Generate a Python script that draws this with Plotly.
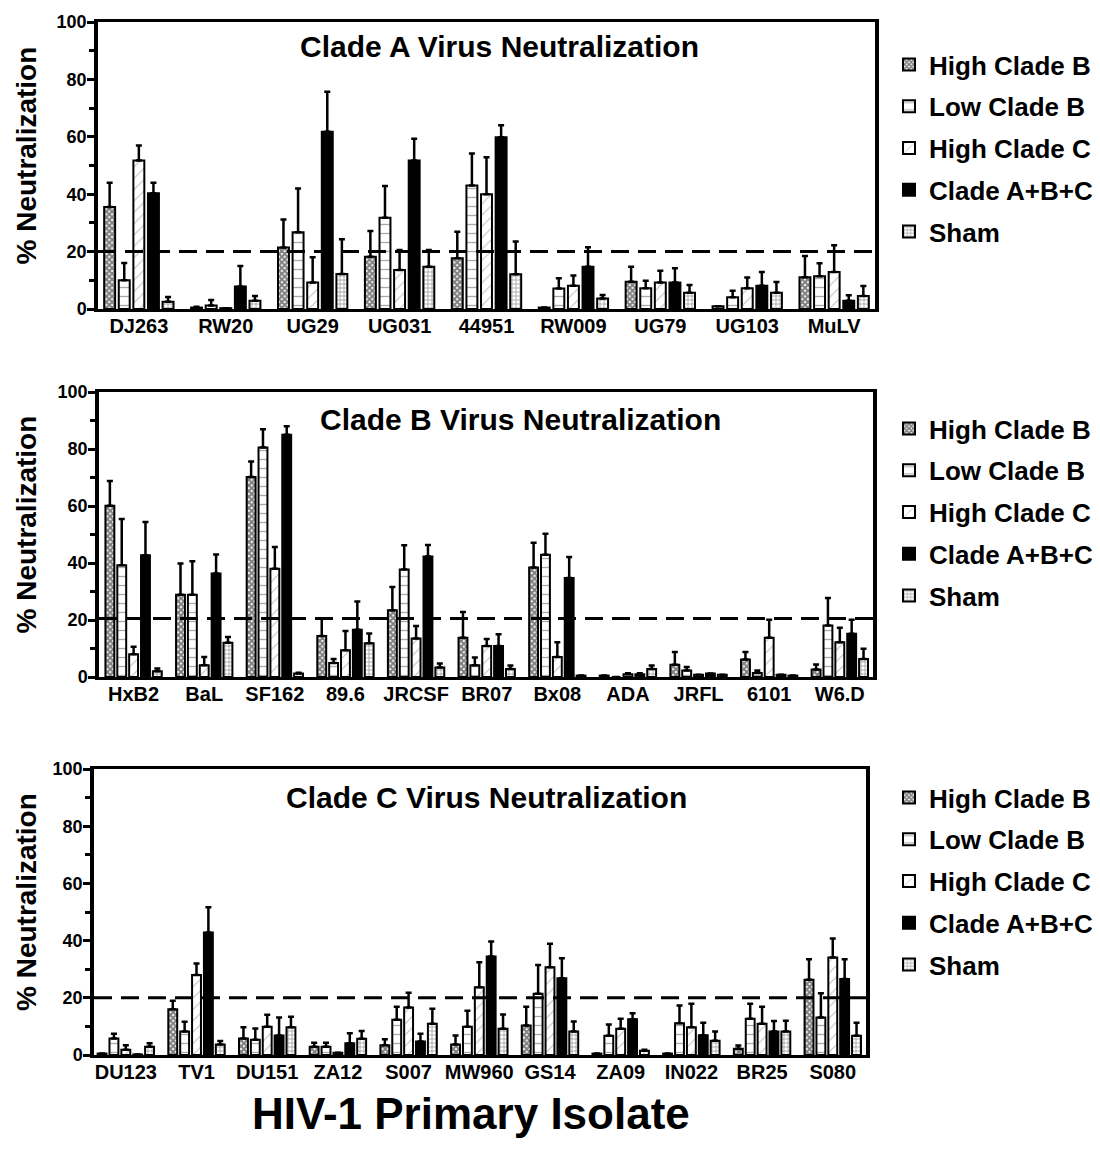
import plotly.graph_objects as go

FONT = "Liberation Sans, Arial, sans-serif"

series_names = ["High Clade B", "Low Clade B", "High Clade C", "Clade A+B+C", "Sham"]

# ---------------- Clade A panel ----------------
cats_a = ["DJ263", "RW20", "UG29", "UG031", "44951", "RW009", "UG79", "UG103", "MuLV"]
a_high_b = [35.5, 0.5, 21.4, 18.2, 17.7, 0.5, 9.5, 1.0, 11.1]
a_high_b_sd = [8.5, 0.3, 9.8, 9.0, 9.2, 0.0, 5.2, 0.0, 7.4]
a_low_b = [10.0, 1.2, 26.7, 31.8, 43.0, 7.1, 7.2, 4.1, 11.4]
a_low_b_sd = [6.0, 1.9, 15.3, 11.1, 11.2, 3.6, 2.6, 2.3, 4.5]
a_high_c = [51.7, 0.3, 9.2, 13.6, 40.0, 8.1, 9.2, 7.2, 12.9]
a_high_c_sd = [5.3, 0.0, 8.8, 7.0, 12.9, 3.6, 4.1, 3.8, 9.3]
a_abc = [40.3, 7.8, 61.8, 51.7, 59.8, 14.7, 9.2, 8.1, 2.9]
a_abc_sd = [3.7, 7.2, 13.9, 7.6, 4.2, 6.8, 5.0, 4.8, 1.9]
a_sham = [2.5, 2.9, 12.2, 14.7, 12.1, 3.7, 5.7, 5.7, 4.5]
a_sham_sd = [1.7, 1.6, 12.1, 5.9, 11.4, 1.2, 2.7, 3.7, 3.5]

# ---------------- Clade B panel ----------------
cats_b = ["HxB2", "BaL", "SF162", "89.6", "JRCSF", "BR07", "Bx08", "ADA", "JRFL", "6101", "W6.D"]
b_high_b = [60.1, 28.9, 70.2, 14.4, 23.4, 13.8, 38.4, 0.5, 4.3, 6.1, 2.6]
b_high_b_sd = [8.7, 10.9, 5.4, 6.0, 8.2, 9.0, 8.7, 0.0, 4.5, 2.7, 1.8]
b_low_b = [39.2, 28.9, 80.5, 4.9, 37.7, 4.1, 42.9, 0.0, 2.3, 1.4, 18.1]
b_low_b_sd = [16.2, 11.7, 6.4, 1.4, 8.5, 2.7, 7.4, 0.0, 1.2, 0.9, 9.6]
b_high_c = [8.0, 4.1, 38.0, 9.4, 13.5, 10.9, 7.0, 1.0, 0.8, 13.8, 12.2]
b_high_c_sd = [2.6, 2.9, 7.6, 6.7, 4.4, 2.4, 5.2, 0.3, 0.0, 6.3, 5.1]
b_abc = [42.7, 36.3, 85.0, 16.6, 42.3, 10.9, 34.7, 1.0, 1.2, 0.8, 15.2]
b_abc_sd = [11.7, 6.7, 3.0, 9.9, 4.0, 4.1, 7.4, 0.3, 0.0, 0.0, 4.9]
b_sham = [2.0, 12.0, 1.2, 11.8, 3.3, 2.8, 0.5, 2.8, 0.8, 0.5, 6.3]
b_sham_sd = [1.0, 2.0, 0.3, 3.5, 1.4, 1.2, 0.0, 1.2, 0.0, 0.0, 3.6]

# ---------------- Clade C panel ----------------
cats_c = ["DU123", "TV1", "DU151", "ZA12", "S007", "MW960", "GS14", "ZA09", "IN022", "BR25", "S080"]
c_high_b = [0.5, 16.0, 5.8, 2.9, 3.4, 3.7, 10.3, 0.5, 0.5, 2.2, 26.3]
c_high_b_sd = [0.0, 3.0, 3.9, 1.4, 2.1, 3.1, 6.6, 0.0, 0.0, 1.1, 7.2]
c_low_b = [5.8, 8.2, 5.3, 2.9, 12.3, 9.9, 21.4, 6.7, 11.1, 12.7, 13.1]
c_low_b_sd = [1.6, 3.4, 4.0, 1.4, 4.6, 5.6, 10.1, 4.0, 6.2, 5.2, 8.5]
c_high_c = [1.8, 28.0, 9.9, 0.8, 16.6, 23.7, 30.7, 9.2, 9.7, 10.9, 34.1]
c_high_c_sd = [1.6, 4.0, 4.2, 0.0, 5.2, 8.7, 8.2, 3.5, 8.2, 6.0, 6.6]
c_abc = [0.2, 42.8, 6.8, 4.1, 4.7, 34.4, 26.8, 12.5, 6.9, 8.2, 26.6]
c_abc_sd = [0.0, 8.9, 6.3, 3.5, 2.7, 5.3, 7.0, 2.1, 4.4, 3.7, 6.9]
c_sham = [2.9, 3.7, 9.7, 5.7, 10.9, 9.2, 8.2, 1.5, 5.0, 8.2, 6.7]
c_sham_sd = [1.2, 1.2, 3.7, 2.7, 5.3, 5.0, 3.5, 0.3, 3.2, 3.8, 4.6]

panel_titles = ["Clade A Virus Neutralization", "Clade B Virus Neutralization",
                "Clade C Virus Neutralization"]
y_title = "% Neutralization"
x_title = "HIV-1 Primary Isolate"
threshold = [20.0, 20.5, 20.0]

panels = [
    (cats_a, [a_high_b, a_low_b, a_high_c, a_abc, a_sham],
     [a_high_b_sd, a_low_b_sd, a_high_c_sd, a_abc_sd, a_sham_sd]),
    (cats_b, [b_high_b, b_low_b, b_high_c, b_abc, b_sham],
     [b_high_b_sd, b_low_b_sd, b_high_c_sd, b_abc_sd, b_sham_sd]),
    (cats_c, [c_high_b, c_low_b, c_high_c, c_abc, c_sham],
     [c_high_b_sd, c_low_b_sd, c_high_c_sd, c_abc_sd, c_sham_sd]),
]

W, H = 1100, 1160
OFF = 8  # page body margin offset (screen px = paper px + 8)


def px(v):
    return v - OFF


# screen-pixel boxes of the three plot areas: (left, right, top, bottom)
boxes = [(98, 875, 22, 309), (99, 873, 392, 677), (94, 866, 769, 1055)]
xranges = [[-0.47, 8.47], [-0.49, 10.47], [-0.45, 10.47]]
legend_tops = [41, 405, 774]
title_pos = [(499, 47), (520, 420), (486, 797)]

patterns = [
    dict(shape="x", size=4, solidity=0.75, fgcolor="black", bgcolor="white"),
    dict(shape="-", size=9, solidity=0.15, fgcolor="#555555", bgcolor="white"),
    dict(shape="/", size=8, solidity=0.12, fgcolor="#777777", bgcolor="white"),
    dict(shape="", fgcolor="black", bgcolor="black"),
    dict(shape="+", size=4, solidity=0.35, fgcolor="#333333", bgcolor="white"),
]

fig = go.Figure()
for p, (cats, vals, sds) in enumerate(panels):
    sfx = "" if p == 0 else str(p + 1)
    for s in range(5):
        color = "black" if s == 3 else "white"
        fig.add_trace(go.Bar(
            x=cats, y=vals[s], name=series_names[s],
            xaxis="x" + sfx, yaxis="y" + sfx,
            legend="legend" + sfx, legendgroup=f"g{p}{s}",
            marker=dict(color=color, line=dict(color="black", width=2),
                        pattern=patterns[s]),
            error_y=dict(type="data", symmetric=False, array=sds[s],
                         arrayminus=[0] * len(cats), color="black",
                         thickness=2.5, width=3),
        ))

layout = dict(
    width=W, height=H, autosize=False,
    margin=dict(l=0, r=0, t=0, b=0, autoexpand=False),
    paper_bgcolor="white", plot_bgcolor="white",
    barmode="group", bargap=0.16, bargroupgap=0.25,
    font=dict(family=FONT, color="black", weight="bold"),
    shapes=[], annotations=[],
)

for p in range(3):
    l, r, t, b = [px(v) for v in boxes[p]]
    sfx = "" if p == 0 else str(p + 1)
    layout["xaxis" + sfx] = dict(
        domain=[l / W, r / W], anchor="y" + sfx, type="category",
        range=xranges[p], showline=True, linewidth=3, linecolor="black",
        mirror=True, ticks="", showgrid=False, zeroline=False, automargin=False,
        ticklabelstandoff=-3,
        tickfont=dict(size=20, family=FONT, weight="bold"),
    )
    layout["yaxis" + sfx] = dict(
        domain=[1 - b / H, 1 - t / H], anchor="x" + sfx, automargin=False,
        range=[0, 100], dtick=20, ticks="outside", ticklen=7, tickwidth=3,
        tickcolor="black", showline=True, linewidth=3.5, linecolor="black",
        mirror=True, showgrid=False, zeroline=False, ticklabelstandoff=-3,
        minor=dict(dtick=10, ticks="outside", ticklen=5, tickwidth=3, tickcolor="black"),
        tickfont=dict(size=18, family=FONT, weight="bold"),
    )
    layout["legend" + sfx] = dict(
        x=px(1098) / W, xanchor="right", y=1 - px(legend_tops[p]) / H, yanchor="top",
        font=dict(size=26, family=FONT, weight="bold"),
        tracegroupgap=5, traceorder="grouped", bgcolor="rgba(0,0,0,0)",
        itemwidth=30,
    )
    layout["shapes"].append(dict(
        type="line", xref=f"x{sfx} domain", yref="y" + sfx,
        x0=0, x1=1, y0=threshold[p], y1=threshold[p],
        line=dict(color="black", width=3, dash="18px,9px"),
    ))
    tx, ty = title_pos[p]
    layout["annotations"].append(dict(
        text=panel_titles[p], x=px(tx) / W, y=1 - px(ty) / H, xref="paper", yref="paper",
        showarrow=False, xanchor="center", yanchor="middle",
        font=dict(size=30, family=FONT, weight="bold"),
    ))
    layout["annotations"].append(dict(
        text=y_title, x=px(26) / W, y=1 - ((t + b) / 2 - 10) / H,
        xref="paper", yref="paper", showarrow=False, textangle=-90,
        xanchor="center", yanchor="middle",
        font=dict(size=28, family=FONT, weight="bold"),
    ))

layout["annotations"].append(dict(
    text=x_title, x=px(471) / W, y=1 - px(1113) / H, xref="paper", yref="paper",
    showarrow=False, xanchor="center", yanchor="middle",
    font=dict(size=44, family=FONT, weight="bold"),
))

fig.update_layout(**layout)
fig.write_html("out.html")
